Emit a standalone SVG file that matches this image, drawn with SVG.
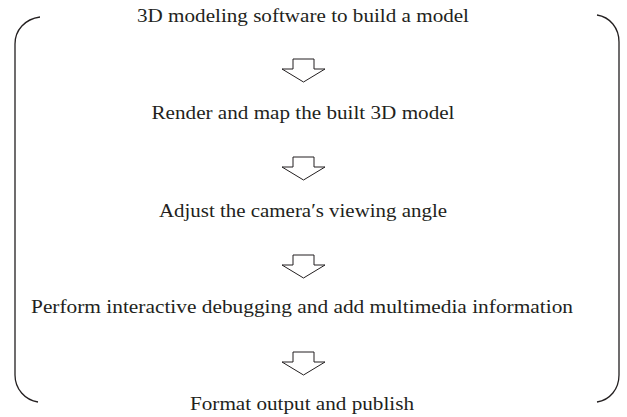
<svg xmlns="http://www.w3.org/2000/svg" width="627" height="417" viewBox="0 0 627 417">
<defs>
<style>
.t{font-family:"Liberation Serif","Times New Roman",serif;font-size:18.5px;fill:#231f20;text-anchor:middle}
.a{fill:#fff;stroke:#231f20;stroke-width:1}
.b{fill:none;stroke:#231f20;stroke-width:1.3}
</style>
<path id="arr" class="a" d="M-10.5,0 H10.5 V10 H21.5 L0,23 L-21.5,10 H-10.5 Z"/>
</defs>
<rect width="627" height="417" fill="#fff"/>
<g id="brackets">
<path class="b" d="M40,17 C25,19 15,30 15,44 V375 C15,389 25,400 38,402"/>
<path class="b" d="M597,15 C610,17 619,28 619,42 V375 C619,389 610,400 597,402"/>
</g>
<g id="connectors">
<use href="#arr" x="303.5" y="59"/>
<use href="#arr" x="303.5" y="157"/>
<use href="#arr" x="303.5" y="255"/>
<use href="#arr" x="303.5" y="352"/>
</g>
<g id="n1"><text class="t" x="303" y="22" textLength="332" lengthAdjust="spacingAndGlyphs">3D modeling software to build a model</text></g>
<g id="n2"><text class="t" x="303" y="119" textLength="303" lengthAdjust="spacingAndGlyphs">Render and map the built 3D model</text></g>
<g id="n3"><text class="t" x="303" y="216.5" textLength="288" lengthAdjust="spacingAndGlyphs">Adjust the camera′s viewing angle</text></g>
<g id="n4"><text class="t" x="302" y="312.5" textLength="542" lengthAdjust="spacingAndGlyphs">Perform interactive debugging and add multimedia information</text></g>
<g id="n5"><text class="t" x="302" y="410" textLength="224" lengthAdjust="spacingAndGlyphs">Format output and publish</text></g>
</svg>
